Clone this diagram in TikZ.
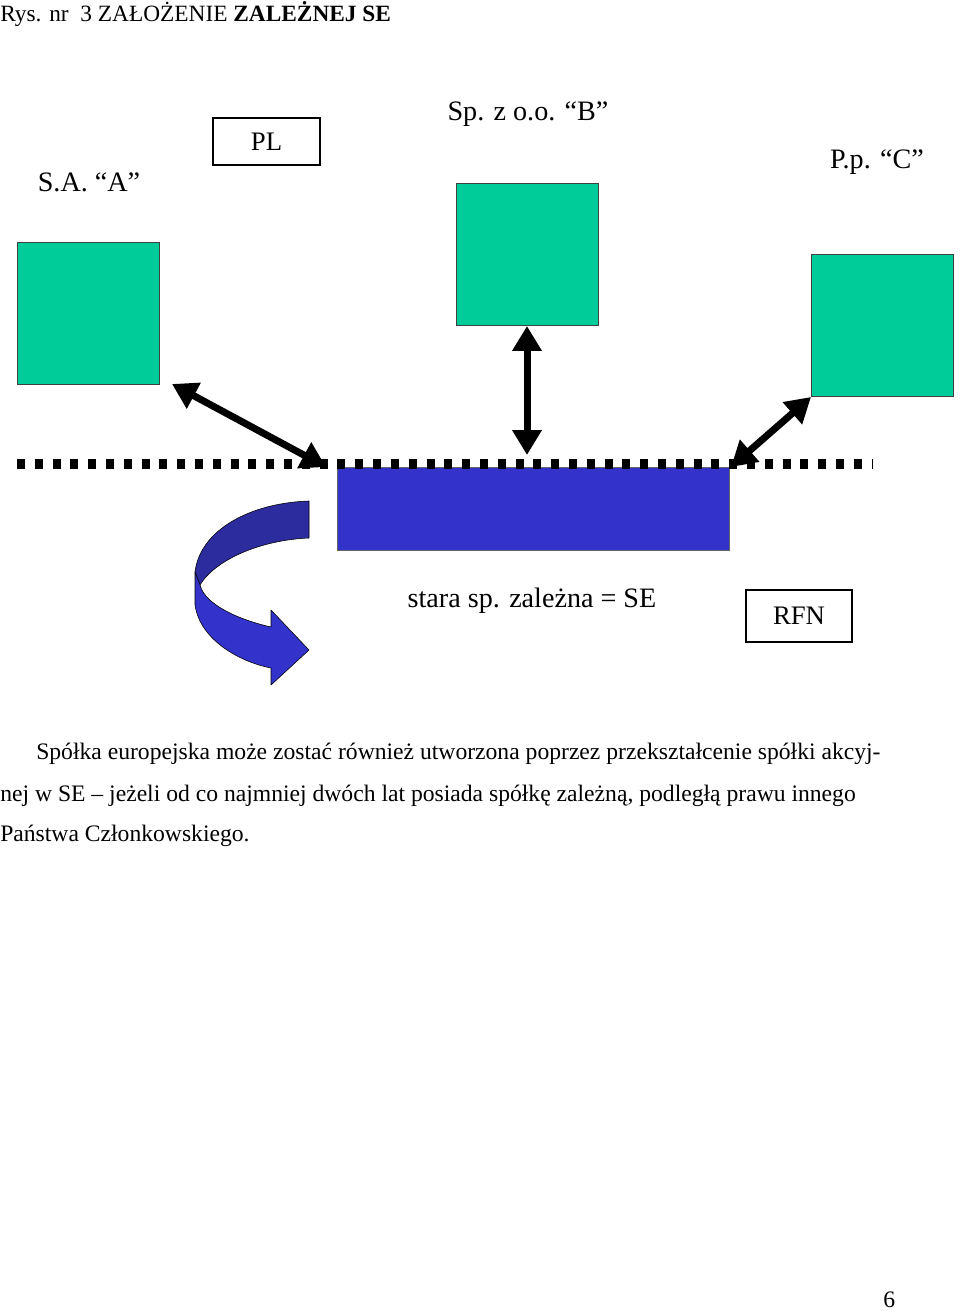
\documentclass[tikz,border=0pt]{standalone}
\usepackage{fontspec}
\setmainfont{Liberation Serif}
\usepackage{xcolor}
\usetikzlibrary{arrows.meta,positioning}
\definecolor{zielony}{RGB}{0,204,153}
\definecolor{niebieski}{RGB}{51,51,204}
\definecolor{ciemny}{RGB}{44,44,158}
\tikzset{%
	spolka/.style   = {draw=black!75, fill=zielony, minimum width=3.55cm, minimum height=3.55cm, inner sep=0pt},
	kraj/.style     = {draw, thick, rectangle, inner sep=0pt, font=\fontsize{19}{22}\selectfont},
	opis/.style     = {anchor=base, inner sep=0pt, font=\fontsize{20}{24}\selectfont},
	tekst/.style    = {anchor=base west, inner sep=0pt, font=\fontsize{16.8}{20}\selectfont},
	dwustr/.style   = {line width=0.175cm, {Triangle[length=0.62cm,width=0.7cm]}-{Triangle[length=0.62cm,width=0.7cm]}},
	granica/.style  = {line width=0.225cm, dash pattern=on 0.2cm off 0.245cm},
	wstega/.style   = {draw=black, thin, line join=round},
}

\begin{document}
\begin{tikzpicture}[x=0.025cm,y=-0.025cm]
	\useasboundingbox (0,0) rectangle (960,1312);
	\node[tekst, font=\fontsize{16.6}{20}\selectfont] (tytul) at (0,22) {Rys. nr\ \ 3 ZAŁOŻENIE \textbf{ZALEŻNEJ SE}};
	\node[opis] (nazwaA) at (89,192) {S.A. ``A''};
	\node[opis] (nazwaB) at (528,121) {Sp. z o.o. ``B''};
	\node[opis] (nazwaC) at (877,169) {P.p. ``C''};
	\node[kraj, minimum width=2.675cm, minimum height=1.175cm] (pl) at (266.5,141.5) {PL};
	\node[spolka] (A) at (88.5,313) {};
	\node[spolka] (B) at (527,254) {};
	\node[spolka] (C) at (882.5,325) {};
	\node[draw=black!60, fill=niebieski, minimum width=9.8cm, minimum height=2.075cm, inner sep=0pt] (se) at (533,508.5) {};
	\draw[granica] (17,464) -- (872,464);
	\coordinate (a1) at (172,384);
	\coordinate (a2) at (326,467);
	\coordinate (b1) at (527,326);
	\coordinate (b2) at (527,455);
	\coordinate (c1) at (811,397);
	\coordinate (c2) at (731,467);
	\draw[dwustr] (a1) -- (a2);
	\draw[dwustr] (b1) -- (b2);
	\draw[dwustr] (c1) -- (c2);
	\fill[ciemny] (309,501) .. controls (250,503) and (200,530) .. (195,572) -- (200,585) .. controls (215,560) and (260,540) .. (309,538) -- cycle;
	\draw[wstega] (309,501) .. controls (250,503) and (200,530) .. (195,572) -- (200,585) .. controls (215,560) and (260,540) .. (309,538) -- cycle;
	\draw[wstega, fill=niebieski] (195,572) -- (195,605) .. controls (200,640) and (240,662) .. (271,668) -- (271,685) -- (309,650) -- (271,610) -- (271,627) .. controls (240,620) and (205,605) .. (200,585) -- cycle;
	\node[opis] (stara) at (532,607) {stara sp. zależna = SE};
	\node[kraj, minimum width=2.65cm, minimum height=1.3cm] (rfn) at (799,616) {RFN};
	\node[tekst] (w1) at (36,759) {Spółka europejska może zostać również utworzona poprzez przekształcenie spółki akcyj-};
	\node[tekst] (w2) at (0,801) {nej w SE -- jeżeli od co najmniej dwóch lat posiada spółkę zależną, podległą prawu innego};
	\node[tekst] (w3) at (0,841) {Państwa Członkowskiego.};
	\node[tekst] (strona) at (883,1307) {6};
\end{tikzpicture}
\end{document}
